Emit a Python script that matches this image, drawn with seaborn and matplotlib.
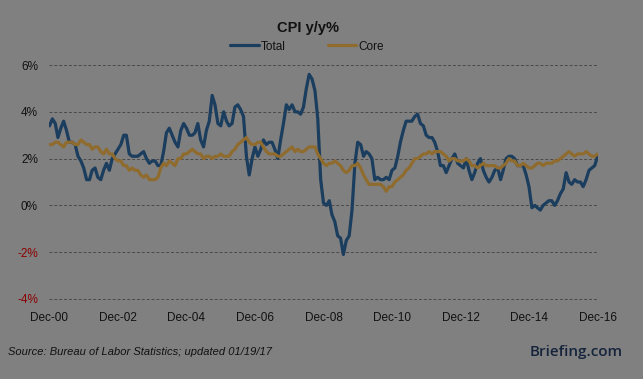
import pandas as pd
import numpy as np
import matplotlib
matplotlib.use("Agg")
import matplotlib.pyplot as plt
import seaborn as sns
from matplotlib.lines import Line2D

# CPI y/y %, monthly Dec-2000 .. Dec-2016
total = [3.4,
         3.7, 3.5, 2.9, 3.3, 3.6, 3.2, 2.7, 2.7, 2.6, 2.1, 1.9, 1.6,
         1.1, 1.1, 1.5, 1.6, 1.2, 1.1, 1.5, 1.8, 1.5, 2.0, 2.2, 2.4,
         2.6, 3.0, 3.0, 2.2, 2.1, 2.1, 2.1, 2.2, 2.3, 2.0, 1.8, 1.9,
         1.9, 1.7, 1.7, 2.3, 3.1, 3.3, 3.0, 2.7, 2.5, 3.2, 3.5, 3.3,
         3.0, 3.0, 3.1, 3.5, 2.8, 2.5, 3.2, 3.6, 4.7, 4.3, 3.5, 3.4,
         4.0, 3.6, 3.4, 3.5, 4.2, 4.3, 4.1, 3.8, 2.1, 1.3, 2.0, 2.5,
         2.1, 2.4, 2.8, 2.6, 2.7, 2.7, 2.4, 2.0, 2.8, 3.5, 4.3, 4.1,
         4.3, 4.0, 4.0, 3.9, 4.2, 5.0, 5.6, 5.4, 4.9, 3.7, 1.1, 0.1,
         0.0, 0.2, -0.4, -0.7, -1.3, -1.4, -2.1, -1.5, -1.3, -0.2, 1.8, 2.7,
         2.6, 2.1, 2.3, 2.2, 2.0, 1.1, 1.2, 1.1, 1.1, 1.2, 1.1, 1.5,
         1.6, 2.1, 2.7, 3.2, 3.6, 3.6, 3.6, 3.8, 3.9, 3.5, 3.4, 3.0,
         2.9, 2.9, 2.7, 2.3, 1.7, 1.7, 1.4, 1.7, 2.0, 2.2, 1.8, 1.7,
         1.6, 2.0, 1.5, 1.1, 1.4, 1.8, 2.0, 1.5, 1.2, 1.0, 1.2, 1.5,
         1.6, 1.1, 1.5, 2.0, 2.1, 2.1, 2.0, 1.7, 1.7, 1.7, 1.3, 0.8,
         -0.1, 0.0, -0.1, -0.2, 0.0, 0.1, 0.2, 0.2, 0.0, 0.2, 0.5, 0.7,
         1.4, 1.0, 0.9, 1.1, 1.0, 1.0, 0.8, 1.1, 1.5, 1.6, 1.7, 2.1]

core = [2.6,
        2.6, 2.7, 2.7, 2.6, 2.5, 2.7, 2.7, 2.7, 2.6, 2.6, 2.8, 2.7,
        2.6, 2.6, 2.4, 2.5, 2.5, 2.3, 2.2, 2.4, 2.2, 2.2, 2.0, 1.9,
        1.9, 1.7, 1.7, 1.5, 1.6, 1.5, 1.5, 1.3, 1.2, 1.3, 1.1, 1.1,
        1.1, 1.2, 1.6, 1.8, 1.7, 1.9, 1.8, 1.7, 2.0, 2.0, 2.2, 2.2,
        2.3, 2.4, 2.3, 2.2, 2.2, 2.0, 2.1, 2.1, 2.0, 2.1, 2.1, 2.2,
        2.1, 2.1, 2.1, 2.3, 2.4, 2.6, 2.7, 2.8, 2.9, 2.7, 2.6, 2.6,
        2.7, 2.7, 2.5, 2.3, 2.2, 2.2, 2.2, 2.1, 2.1, 2.2, 2.3, 2.4,
        2.5, 2.3, 2.4, 2.3, 2.3, 2.4, 2.5, 2.5, 2.5, 2.2, 2.0, 1.8,
        1.7, 1.8, 1.8, 1.9, 1.8, 1.7, 1.5, 1.4, 1.5, 1.7, 1.7, 1.8,
        1.6, 1.3, 1.1, 0.9, 0.9, 0.9, 0.9, 0.9, 0.8, 0.6, 0.8, 0.8,
        1.0, 1.1, 1.2, 1.3, 1.5, 1.6, 1.8, 2.0, 2.0, 2.1, 2.2, 2.2,
        2.3, 2.2, 2.3, 2.3, 2.3, 2.2, 2.1, 1.9, 2.0, 2.0, 1.9, 1.9,
        1.9, 2.0, 1.9, 1.7, 1.7, 1.6, 1.7, 1.8, 1.7, 1.7, 1.7, 1.7,
        1.6, 1.6, 1.7, 1.8, 2.0, 1.9, 1.9, 1.7, 1.7, 1.8, 1.7, 1.6,
        1.6, 1.7, 1.8, 1.8, 1.7, 1.8, 1.8, 1.8, 1.9, 1.9, 2.0, 2.1,
        2.2, 2.3, 2.2, 2.1, 2.2, 2.2, 2.2, 2.3, 2.2, 2.1, 2.1, 2.2]

months = pd.date_range("2000-12-01", periods=len(total), freq="MS")
tick_dates = pd.date_range("2000-12-01", "2016-12-01", freq="24MS")
tick_labels = ["Dec-00", "Dec-02", "Dec-04", "Dec-06", "Dec-08",
               "Dec-10", "Dec-12", "Dec-14", "Dec-16"]
y_ticks = [-4, -2, 0, 2, 4, 6]

df = pd.DataFrame({"Date": np.concatenate([months, months]),
                   "Value": total + core,
                   "Series": ["Total"] * len(total) + ["Core"] * len(core)})

bg = "#808080"
c_total, c_core = "#1b3d5e", "#8f6c2e"
sns.set_style("white", {"axes.facecolor": bg, "figure.facecolor": bg})
plt.rcParams["font.family"] = ["Liberation Sans", "DejaVu Sans"]

fig = plt.figure(figsize=(6.43, 3.79), dpi=100)
W, H = 643, 379
ax = fig.add_axes([49 / W, 1 - 301.3 / H, 549 / W, (301.3 - 62.7) / H])

sns.lineplot(data=df, x="Date", y="Value", hue="Series", ax=ax,
             palette={"Total": c_total, "Core": c_core},
             linewidth=2.3, legend=False)

ax.set_ylim(-4.1, 6.1)
ax.set_xlim(months[0] - pd.Timedelta(days=5), months[-1] + pd.Timedelta(days=5))
ax.set_yticks(y_ticks)
ax.set_yticklabels([f"{v}%" for v in y_ticks], fontsize=8.5)
for lab, v in zip(ax.get_yticklabels(), y_ticks):
    lab.set_color("#8b0000" if v < 0 else "#111111")
ax.set_xticks(tick_dates)
ax.set_xticklabels(tick_labels, fontsize=8.5, color="#111111")
ax.tick_params(length=0, axis="y", pad=8)
ax.tick_params(length=0, axis="x", pad=7.5)
for y in y_ticks:
    ax.axhline(y, color="#4a4a4a", lw=0.7, ls=(0, (3, 2)), zorder=0)
for s in ax.spines.values():
    s.set_visible(False)
ax.set_xlabel("")
ax.set_ylabel("")

fig.text(308 / W, 1 - 28 / H, "CPI y/y%", ha="center", va="center",
         fontsize=10.5, fontweight="bold", color="#111111")

handles = [Line2D([], [], color=c_total, lw=2.3),
           Line2D([], [], color=c_core, lw=2.3)]
fig.legend(handles, ["Total", "Core"], loc="center", ncol=2,
           bbox_to_anchor=(307 / W, 1 - 46.5 / H), frameon=False,
           fontsize=8.5, handlelength=2.4, handletextpad=0.15,
           columnspacing=3.6, labelcolor="#111111")

fig.text(8 / W, 1 - 352 / H, "Source: Bureau of Labor Statistics; updated 01/19/17",
         ha="left", va="center", fontsize=8, style="italic", color="#111111")
fig.text(623 / W, 1 - 352 / H, "Briefing.com", ha="right", va="center",
         fontsize=11, family="Open Sans", fontweight="semibold", color="#15243b")

fig.savefig("out.png", dpi=100, facecolor=bg)
